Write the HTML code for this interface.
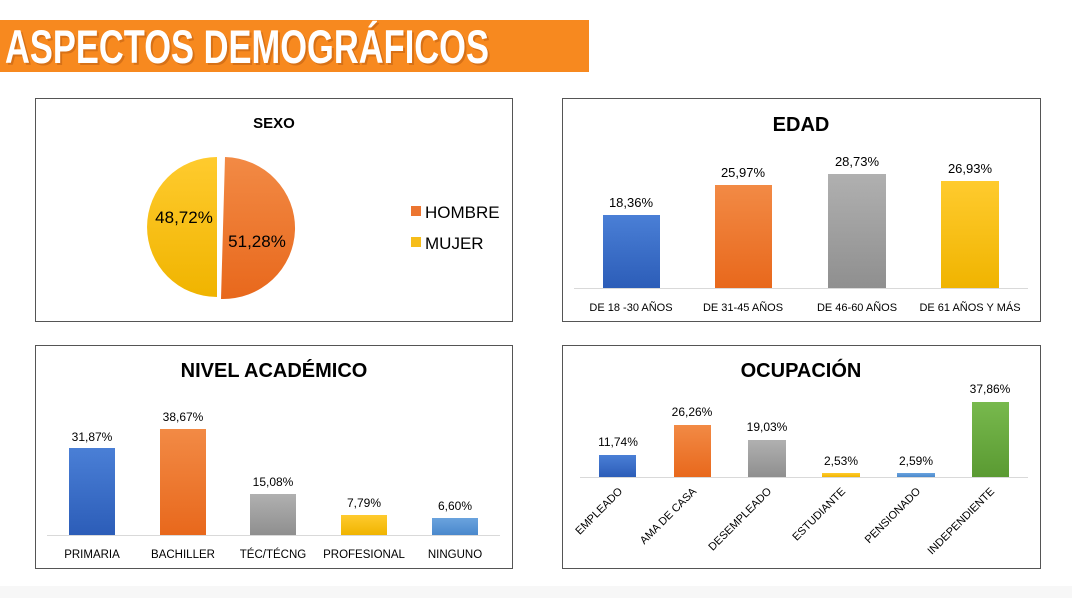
<!DOCTYPE html>
<html><head><meta charset="utf-8"><style>
body{margin:0;width:1072px;height:598px;background:#fff;overflow:hidden;font-family:"Liberation Sans",sans-serif;}
</style></head><body>
<svg width="1072" height="598" xmlns="http://www.w3.org/2000/svg" font-family="Liberation Sans, sans-serif">
<defs>
<linearGradient id="bl" x1="0" y1="0" x2="0" y2="1"><stop offset="0" stop-color="#4a7fd6"/><stop offset="1" stop-color="#2c5db8"/></linearGradient>
<linearGradient id="or" x1="0" y1="0" x2="0" y2="1"><stop offset="0" stop-color="#f28a45"/><stop offset="1" stop-color="#e8681c"/></linearGradient>
<linearGradient id="gr" x1="0" y1="0" x2="0" y2="1"><stop offset="0" stop-color="#b0b0b0"/><stop offset="1" stop-color="#8f8f8f"/></linearGradient>
<linearGradient id="ye" x1="0" y1="0" x2="0" y2="1"><stop offset="0" stop-color="#ffcb2e"/><stop offset="1" stop-color="#f0b400"/></linearGradient>
<linearGradient id="lb" x1="0" y1="0" x2="0" y2="1"><stop offset="0" stop-color="#6aa3de"/><stop offset="1" stop-color="#4a88cc"/></linearGradient>
<linearGradient id="gn" x1="0" y1="0" x2="0" y2="1"><stop offset="0" stop-color="#78b94d"/><stop offset="1" stop-color="#5a9a32"/></linearGradient>
</defs>
<rect x="0" y="20" width="589" height="52" fill="#f7891f"/>
<text x="7" y="65" font-size="47" font-weight="bold" fill="#b85a10" opacity="0.5" textLength="484" lengthAdjust="spacingAndGlyphs">ASPECTOS DEMOGRÁFICOS</text>
<text x="5" y="63" font-size="47" font-weight="bold" fill="#fff" textLength="484" lengthAdjust="spacingAndGlyphs">ASPECTOS DEMOGRÁFICOS</text>
<rect x="0" y="586" width="1072" height="12" fill="#f7f7f7"/>
<g fill="#fff" stroke="#555" stroke-width="1">
<rect x="35.5" y="98.5" width="477" height="223"/>
<rect x="562.5" y="98.5" width="478" height="223"/>
<rect x="35.5" y="345.5" width="477" height="223"/>
<rect x="562.5" y="345.5" width="478" height="223"/>
</g>
<text x="274" y="128" font-size="15" font-weight="bold" text-anchor="middle">SEXO</text>
<path d="M217,157 A70,70 0 0 0 217,297 Z" fill="url(#ye)"/>
<path d="M225,157 A72,71 0 0 1 221,299 Z" fill="url(#or)"/>
<text x="184" y="223" font-size="17" text-anchor="middle">48,72%</text>
<text x="257" y="247" font-size="17" text-anchor="middle">51,28%</text>
<rect x="411" y="206" width="10" height="10" fill="#ec7530"/>
<rect x="411" y="237" width="10" height="10" fill="#f6bd1a"/>
<text x="425" y="218" font-size="17">HOMBRE</text>
<text x="425" y="249" font-size="17">MUJER</text>
<text x="801" y="131" font-size="20" font-weight="bold" text-anchor="middle">EDAD</text>
<line x1="574" y1="288.5" x2="1028" y2="288.5" stroke="#d9d9d9"/>
<rect x="603" y="215" width="57" height="73" fill="url(#bl)"/>
<rect x="715" y="185" width="57" height="103" fill="url(#or)"/>
<rect x="828" y="174" width="58" height="114" fill="url(#gr)"/>
<rect x="941" y="181" width="58" height="107" fill="url(#ye)"/>
<g font-size="13" text-anchor="middle">
<text x="631" y="207">18,36%</text><text x="743" y="177">25,97%</text><text x="857" y="166">28,73%</text><text x="970" y="173">26,93%</text>
</g>
<g font-size="11" text-anchor="middle">
<text x="631" y="311">DE 18 -30 AÑOS</text><text x="743" y="311">DE 31-45 AÑOS</text><text x="857" y="311">DE 46-60 AÑOS</text><text x="970" y="311">DE 61 AÑOS Y MÁS</text>
</g>
<text x="274" y="377" font-size="20" font-weight="bold" text-anchor="middle">NIVEL ACADÉMICO</text>
<line x1="47" y1="535.5" x2="500" y2="535.5" stroke="#d9d9d9"/>
<rect x="69" y="448" width="46" height="87" fill="url(#bl)"/>
<rect x="160" y="429" width="46" height="106" fill="url(#or)"/>
<rect x="250" y="494" width="46" height="41" fill="url(#gr)"/>
<rect x="341" y="515" width="46" height="20" fill="url(#ye)"/>
<rect x="432" y="518" width="46" height="17" fill="url(#lb)"/>
<g font-size="12" text-anchor="middle">
<text x="92" y="441">31,87%</text><text x="183" y="421">38,67%</text><text x="273" y="486">15,08%</text><text x="364" y="507">7,79%</text><text x="455" y="510">6,60%</text>
</g>
<g font-size="11.5" text-anchor="middle">
<text x="92" y="558">PRIMARIA</text><text x="183" y="558">BACHILLER</text><text x="273" y="558">TÉC/TÉCNG</text><text x="364" y="558">PROFESIONAL</text><text x="455" y="558">NINGUNO</text>
</g>
<text x="801" y="377" font-size="20" font-weight="bold" text-anchor="middle">OCUPACIÓN</text>
<line x1="580" y1="477.5" x2="1028" y2="477.5" stroke="#d9d9d9"/>
<rect x="599" y="455" width="37" height="22" fill="url(#bl)"/>
<rect x="674" y="425" width="37" height="52" fill="url(#or)"/>
<rect x="748" y="440" width="38" height="37" fill="url(#gr)"/>
<rect x="822" y="473" width="38" height="4" fill="url(#ye)"/>
<rect x="897" y="473" width="38" height="4" fill="url(#lb)"/>
<rect x="972" y="402" width="37" height="75" fill="url(#gn)"/>
<g font-size="12" text-anchor="middle">
<text x="618" y="446">11,74%</text><text x="692" y="416">26,26%</text><text x="767" y="431">19,03%</text><text x="841" y="465">2,53%</text><text x="916" y="465">2,59%</text><text x="990" y="393">37,86%</text>
</g>
<g font-size="11" text-anchor="end">
<text transform="translate(623,492) rotate(-45)">EMPLEADO</text>
<text transform="translate(697,492) rotate(-45)">AMA DE CASA</text>
<text transform="translate(772,492) rotate(-45)">DESEMPLEADO</text>
<text transform="translate(846,492) rotate(-45)">ESTUDIANTE</text>
<text transform="translate(921,492) rotate(-45)">PENSIONADO</text>
<text transform="translate(995,492) rotate(-45)">INDEPENDIENTE</text>
</g>
</svg>
</body></html>
